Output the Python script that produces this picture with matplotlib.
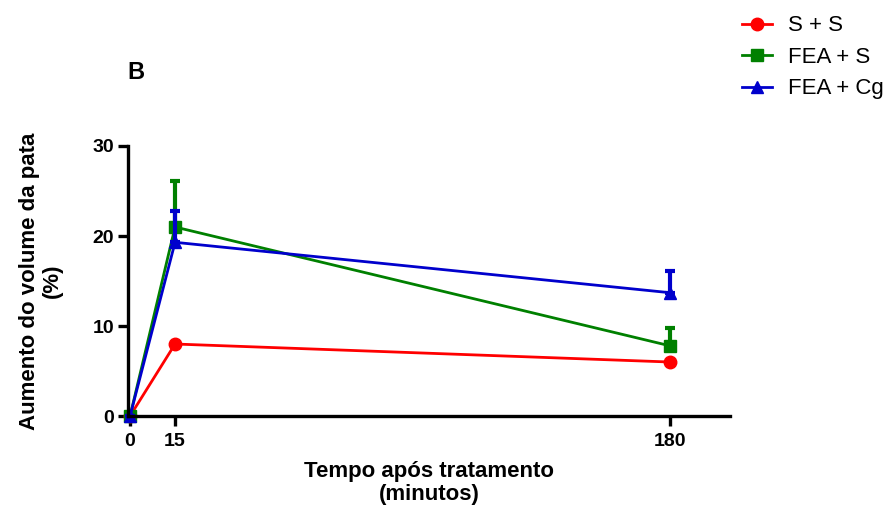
import matplotlib
matplotlib.use("Agg")
import matplotlib.pyplot as plt

plt.rcParams['font.family'] = ['Liberation Sans', 'DejaVu Sans']

time = [0, 15, 180]
series = ["S + S", "FEA + S", "FEA + Cg"]
s_s = [0, 8.0, 6.0]
s_s_err = [0, 0, 0]
fea_s = [0, 21.0, 7.8]
fea_s_err = [0, 5.1, 2.0]
fea_cg = [0, 19.3, 13.7]
fea_cg_err = [0, 3.5, 2.4]
colors = ["#ff0000", "#008000", "#0000cc"]
markers = ["o", "s", "^"]

fig = plt.figure(figsize=(8.88, 5.05), dpi=100)
ax = fig.add_axes([0.1441, 0.1762, 0.822 - 0.1441, 0.7109 - 0.1762])

data = [(s_s, s_s_err), (fea_s, fea_s_err), (fea_cg, fea_cg_err)]
handles = []
for (vals, errs), c, m, lab in zip(data, colors, markers, series):
    ax.errorbar(time, vals, yerr=[[0]*len(errs), errs], color=c, ecolor=c,
                elinewidth=3, capsize=3.5, capthick=3, fmt='none', clip_on=False)
    ln, = ax.plot(time, vals, color=c, marker=m, markersize=9, lw=2, label=lab, clip_on=False)
    handles.append(ln)

ax.set_xlim(-0.7, 200)
ax.set_ylim(0, 30)
ax.set_xticks([0, 15, 180])
ax.set_yticks([0, 10, 20, 30])
for s in ['top', 'right']:
    ax.spines[s].set_visible(False)
for s in ['left', 'bottom']:
    ax.spines[s].set_linewidth(2.4)
ax.tick_params(axis='both', direction='out', length=7, width=2.4, labelsize=14)
ax.tick_params(axis='x', pad=5)
ax.tick_params(axis='y', pad=3)
for lbl in ax.get_xticklabels() + ax.get_yticklabels():
    lbl.set_fontweight('bold')

ax.set_xlabel("Tempo após tratamento\n(minutos)", fontsize=16, fontweight='bold', labelpad=8,
              linespacing=1.15)
ax.set_ylabel("Aumento do volume da pata\n(%)", fontsize=16, fontweight='bold', labelpad=21,
              linespacing=1.15)

fig.text(0.143, 0.857, "B", fontsize=17, fontweight='bold', ha='left', va='center')

fig.legend(handles=handles, labels=series, loc='upper left', bbox_to_anchor=(0.813, 1.009),
           frameon=False, fontsize=16, handlelength=1.35, labelspacing=0.47, handletextpad=0.72)

fig.savefig("out.png", dpi=100)
